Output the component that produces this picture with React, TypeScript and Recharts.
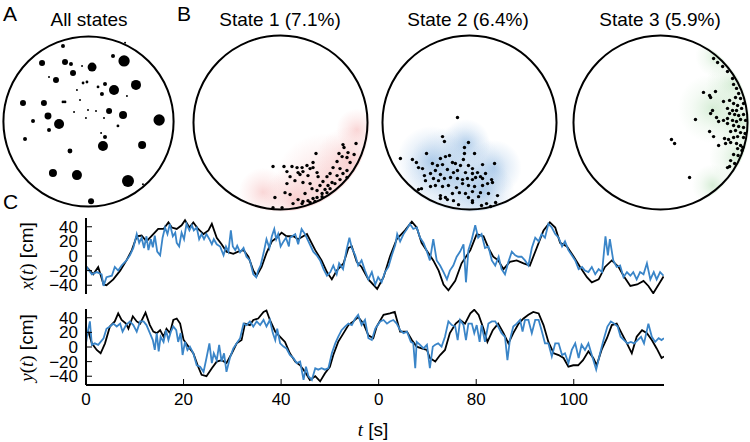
import React from 'react';
import { ScatterChart, Scatter, XAxis, YAxis, ZAxis, LineChart, Line } from 'recharts';

const SANS = '"Liberation Sans", Arial, sans-serif';
const SERIF = '"Liberation Serif", "DejaVu Serif", serif';
const BLUE = '#3a85c8';

// arena positions in cm, arena radius 50 cm
const DOMAIN: [number, number] = [-52, 52];
const ARENA_RADIUS = 50;

// A: all place fields, n = occupancy weight (dot area)
const ALL_STATES: [number, number, number][] = [
  [-15.0, 44.4, 4], [21.5, 46.2, 1], [-27.3, 34.4, 9], [-13.8, 35.0, 9], [-10.3, 33.8, 4],
  [-3.8, 32.6, 1], [2.1, 32.0, 20], [-9.1, 28.5, 9], [14.4, 38.5, 4], [20.9, 35.6, 32],
  [-23.2, 26.2, 1], [-19.1, 24.4, 9], [-3.2, 22.6, 2], [-0.9, 23.2, 2], [-6.8, 18.5, 1],
  [5.6, 20.3, 2], [9.7, 22.1, 4], [7.9, 16.2, 4], [15.0, 18.5, 25], [27.9, 21.5, 25],
  [22.6, 15.0, 1], [-38.5, 10.9, 9], [-26.2, 10.9, 9], [-15.0, 11.5, 2], [-13.8, 11.5, 2],
  [-5.0, 12.6, 1], [-8.5, 5.6, 1], [-0.3, 6.8, 1], [4.4, 6.2, 1], [12.1, 6.2, 9],
  [-23.8, 3.2, 12], [20.3, 3.8, 16], [-1.5, 2.1, 1], [9.1, 2.1, 1], [-32.6, 0.3, 4],
  [-17.3, -1.5, 25], [-23.2, -5.0, 4], [17.3, -2.6, 2], [41.5, 0.9, 32], [7.4, -6.8, 1],
  [9.7, -9.1, 4], [-37.3, -10.3, 4], [8.5, -14.4, 25], [31.5, -13.8, 16], [-10.9, -17.3, 6],
  [-20.9, -30.3, 16], [-6.8, -31.5, 25], [23.2, -35.0, 36], [32.0, -36.8, 1], [1.5, -46.8, 9],
];

const STATE1: [number, number][] = [
  [43.4, -12.1], [35.9, -12.7], [36.5, -14.4], [38.8, -17.3], [33.6, -17.8], [42.3, -18.4],
  [20.4, -17.8], [35.4, -19.6], [38.2, -20.1], [32.5, -22.4], [40.0, -23.0], [18.7, -23.0],
  [-4.3, -25.3], [2.0, -25.3], [6.6, -25.3], [9.5, -25.9], [12.4, -25.9], [15.2, -24.7],
  [17.0, -26.5], [18.7, -25.9], [3.7, -28.2], [10.1, -28.8], [12.9, -28.2], [21.0, -28.8],
  [30.2, -25.9], [34.2, -26.5], [38.2, -27.6], [28.5, -29.3], [5.5, -31.1], [11.2, -29.9],
  [15.8, -30.5], [21.6, -31.1], [26.7, -31.1], [32.5, -30.5], [35.9, -29.3], [8.3, -33.4],
  [12.9, -34.5], [3.7, -35.1], [17.0, -35.1], [24.4, -33.9], [29.6, -34.5], [34.2, -32.8],
  [38.2, -31.6], [22.7, -36.2], [27.3, -36.2], [31.3, -35.1], [18.1, -38.0], [21.0, -39.1],
  [25.6, -38.5], [28.5, -38.0], [2.6, -40.3], [5.5, -41.4], [-3.2, -43.1], [14.1, -40.8],
  [23.9, -40.8], [26.7, -40.3], [10.1, -44.3], [12.9, -45.4], [15.8, -44.9], [18.7, -43.7],
  [21.0, -43.1], [23.9, -42.6], [17.0, -46.0], [19.8, -45.4], [-4.3, -49.0], [0.9, -49.0],
  [7.2, -46.6], [12.4, -46.6],
];

const STATE2: [number, number][] = [
  [-6.9, 2.9], [-15.5, -8.1], [-14.4, -10.9], [-0.6, -11.5], [-2.9, -14.4], [-39.7, -20.7],
  [-32.8, -21.3], [-30.5, -23.0], [-24.7, -17.8], [-16.7, -20.7], [-13.8, -19.6], [-11.5, -19.0],
  [-2.9, -17.8], [2.9, -17.8], [-3.5, -21.3], [-29.3, -25.9], [-27.0, -26.5], [-21.3, -23.6],
  [-18.4, -24.7], [-15.5, -24.2], [-9.8, -23.0], [-8.1, -23.6], [-5.2, -24.7], [-0.6, -24.7],
  [1.7, -26.5], [7.5, -24.2], [14.4, -23.6], [-25.9, -30.5], [-22.4, -29.3], [-19.6, -27.6],
  [-16.7, -29.9], [-12.7, -27.0], [-9.2, -28.8], [-6.9, -27.6], [-2.3, -28.8], [1.7, -29.3],
  [4.6, -28.8], [6.3, -31.1], [9.2, -29.3], [-25.3, -33.4], [-20.7, -32.2], [-17.8, -33.4],
  [-14.4, -32.2], [-10.9, -31.6], [-6.9, -32.2], [-4.0, -32.8], [-1.2, -32.2], [1.7, -32.8],
  [3.5, -31.6], [7.5, -32.2], [12.7, -32.8], [-27.6, -38.0], [-22.4, -36.8], [-19.6, -36.2],
  [-15.5, -36.8], [-12.1, -36.2], [-7.5, -37.4], [-4.0, -35.1], [-0.6, -36.2], [2.9, -36.8],
  [7.5, -36.2], [10.4, -35.1], [13.2, -34.5], [-29.3, -38.5], [-16.7, -42.0], [-13.8, -43.1],
  [-9.8, -40.8], [-5.8, -40.3], [-2.3, -40.8], [1.7, -39.7], [6.3, -40.3], [10.9, -40.8],
  [-16.7, -43.7], [-12.7, -44.3], [-9.2, -44.9], [-0.6, -43.1], [1.7, -44.9], [5.2, -42.6],
  [16.1, -42.0], [-6.3, -47.2], [1.7, -46.0], [6.9, -47.7], [9.8, -46.6], [12.1, -48.3],
  [15.0, -46.0],
];

const STATE3: [number, number][] = [
  [30.5, 36.8], [32.8, 34.5], [35.7, 32.2], [38.5, 29.3], [41.4, 25.3], [42.0, 21.9],
  [43.7, 19.6], [44.9, 16.7], [43.1, 14.4], [46.0, 13.8], [24.7, 17.3], [28.2, 15.5],
  [28.8, 14.4], [31.6, 17.8], [36.2, 12.1], [39.7, 12.7], [42.0, 10.9], [44.3, 9.8],
  [47.7, 10.9], [38.5, 8.1], [41.4, 6.9], [43.7, 6.9], [46.6, 8.1], [29.9, 6.9],
  [28.8, 5.2], [39.7, 5.2], [42.6, 4.6], [44.9, 4.0], [47.7, 4.6], [20.1, 1.7],
  [32.2, 2.9], [33.4, 0.6], [36.2, 1.2], [38.5, 2.3], [41.4, 1.2], [43.7, 0.6],
  [46.0, 1.7], [48.9, 1.2], [38.5, -0.6], [42.0, -1.7], [44.9, -2.3], [47.7, -2.9],
  [28.2, -5.2], [40.3, -5.2], [43.1, -4.6], [46.0, -5.8], [48.6, -6.3], [30.5, -8.1],
  [36.8, -9.2], [39.1, -9.8], [42.0, -8.6], [44.3, -8.1], [47.7, -8.6], [33.4, -13.2],
  [37.4, -12.1], [40.3, -11.5], [43.7, -12.1], [46.0, -13.2], [44.3, -15.0], [46.8, -16.1],
  [47.3, -14.4], [42.0, -18.4], [44.6, -19.0], [40.3, -21.9], [42.6, -23.6], [39.7, -25.3],
  [38.5, -25.9], [6.3, -9.8], [8.1, -12.1], [16.7, -31.6],
];

// occupancy density blobs, spread in cm
const DENSITY1 = [
  { x: 26, y: -36, spread: 30 }, { x: 40, y: -22, spread: 20 },
  { x: 8, y: -44, spread: 18 }, { x: 44, y: -4, spread: 12 }, { x: -10, y: -40, spread: 14 },
];
const DENSITY2 = [
  { x: -8, y: -32, spread: 30 }, { x: -22, y: -22, spread: 20 },
  { x: 8, y: -40, spread: 18 }, { x: -2, y: -12, spread: 14 }, { x: 14, y: -26, spread: 16 },
];
const DENSITY3 = [
  { x: 46, y: 0, spread: 18 }, { x: 42, y: 22, spread: 16 }, { x: 44, y: -20, spread: 16 },
  { x: 32, y: 38, spread: 12 }, { x: 30, y: -36, spread: 12 }, { x: 30, y: 8, spread: 20 },
];

// C: true (black) and decoded (blue) trajectories, [t s, cm]
const X_TRUE: [number, number][] = [
  [0, -14], [1.5, -25], [2.5, -15], [3.6, -39], [4.2, -40], [5.6, -32], [7.0, -20], [8.3, -6],
  [9.4, 8], [10.4, 27], [11.4, 28], [12.4, 20], [13.8, 30], [14.8, 37], [15.9, 37], [16.9, 46],
  [17.6, 39], [18.6, 37], [19.6, 42], [20.3, 49], [21.2, 39], [22.0, 46], [23.0, 37], [24.1, 30],
  [25.1, 35], [25.8, 44], [26.8, 25], [27.8, 16], [28.8, 6], [30.2, 3], [31.2, 6], [32.3, 8],
  [33.3, -1], [34.3, -20], [35.0, -27], [36.0, -15], [37.0, 4], [38.1, 20], [39.1, 25], [40.1, 32],
  [41.1, 27], [42.5, 27], [43.5, 23], [45.3, 30], [47.0, 8], [48.3, -6], [49.4, -22], [50.4, -32],
  [51.4, -20], [52.8, -10], [53.8, 11], [54.5, 13], [55.5, -8], [56.5, -15], [57.9, -32], [59.7, -45],
  [61.0, -29], [62.3, -1], [63.7, 23], [65.4, 35], [66.8, 47], [67.8, 39], [68.8, 18], [69.8, 8],
  [71.2, -6], [72.3, -20], [73.3, -39], [74.3, -47], [75.7, -34], [77.0, -10], [78.8, 8], [80.1, 30],
  [81.5, 27], [82.5, 11], [83.5, -1], [84.5, -6], [85.6, -18], [86.9, -8], [88.3, -6], [89.7, -10],
  [91.0, -13], [92.4, 11], [93.8, 35], [95.1, 46], [96.2, 39], [97.2, 18], [98.6, 13], [100.0, -1],
  [101.3, -15], [102.7, -29], [103.7, -36], [105.1, -32], [106.4, -15], [107.8, -6], [109.2, -15],
  [110.2, -27], [111.6, -41], [113.0, -39], [114.3, -34], [115.3, -41], [116.3, -51], [117.4, -39],
  [118.4, -28],
];

const X_DECODED: [number, number][] = [
  [0, -14], [1.2, -25], [2.2, -22], [3.2, -25], [3.6, -41], [4.2, -29], [5.3, -27], [5.9, -15],
  [6.6, -20], [7.3, -13], [8.3, -6], [9.0, 1], [9.7, 11], [10.4, 30], [10.9, 18], [11.4, 25],
  [11.9, 11], [12.4, 27], [12.8, 8], [13.3, 23], [13.7, 12], [14.1, 28], [14.6, 6], [15.2, 1],
  [15.7, 25], [16.2, 39], [16.7, 30], [17.2, 44], [17.8, 27], [18.3, 32], [18.6, 18], [19.1, 13],
  [19.6, 32], [20.1, 23], [20.6, 44], [21.2, 35], [21.7, 42], [22.1, 35], [22.7, 39], [23.2, 23],
  [23.7, 30], [24.2, 23], [24.7, 30], [25.3, 23], [25.8, 16], [26.2, 23], [26.8, 16], [27.5, 13],
  [28.2, 1], [28.7, 13], [29.2, 6], [29.7, 35], [30.1, 13], [30.6, 8], [31.0, 14], [31.6, 5],
  [32.3, 11], [32.9, -1], [33.6, -6], [34.3, -25], [34.9, -29], [35.3, -20], [35.8, -13], [36.4, 4],
  [37.0, 23], [37.6, 11], [38.1, 27], [38.6, 37], [39.0, 23], [39.4, 30], [39.9, 13], [40.5, 20],
  [41.0, 25], [41.6, 13], [41.8, 25], [42.9, 30], [43.5, 16], [44.2, 37], [44.9, 30], [45.6, 20],
  [46.1, 13], [46.6, 6], [47.3, 1], [48.0, -6], [48.7, -18], [49.4, -27], [50.1, -22], [50.7, -13],
  [51.4, -25], [51.9, -10], [52.7, -18], [53.4, 8], [54.0, 25], [54.5, 11], [55.2, 1], [55.8, -13],
  [56.5, -6], [57.2, -20], [57.9, -32], [58.6, -22], [59.3, -39], [59.9, -29], [60.6, -36], [61.3, -22],
  [62.0, -15], [62.7, 1], [63.4, 15], [63.8, 30], [64.4, 20], [65.1, 30], [65.8, 37], [66.4, 44],
  [67.1, 37], [67.8, 39], [68.5, 25], [69.2, 18], [69.9, 6], [70.5, -6], [71.2, 23], [71.9, -6],
  [72.6, -13], [73.3, -22], [74.0, -32], [74.6, -20], [75.3, -13], [76.0, -1], [76.7, 6], [77.4, 16],
  [77.9, -36], [78.4, 8], [79.1, 23], [79.8, 42], [80.4, 25], [81.1, 30], [81.8, 11], [82.5, 13],
  [83.2, -6], [83.9, -13], [84.6, -1], [85.2, -18], [85.9, -25], [86.6, -8], [87.3, 6], [88.0, 1],
  [88.6, -1], [89.3, -1], [90.0, -6], [90.7, -13], [91.4, 11], [92.1, 25], [92.8, 20], [93.4, 30],
  [94.1, 25], [94.8, 44], [95.5, 39], [96.2, 30], [96.9, 25], [97.6, 13], [98.2, 20], [98.9, 8],
  [99.6, 1], [100.3, -6], [101.0, -18], [101.7, -15], [102.3, -20], [103.0, -22], [103.7, -15],
  [104.4, -25], [105.1, -18], [105.8, -22], [106.5, 27], [107.0, 1], [107.4, 23], [108.1, -6],
  [108.8, -15], [109.5, -13], [110.2, -29], [110.9, -22], [111.6, -27], [112.2, -22], [112.9, -32],
  [113.6, -22], [114.3, -25], [115.0, -10], [115.7, -32], [116.4, -22], [117.0, -32], [117.7, -22],
  [118.4, -27],
];

const Y_TRUE: [number, number][] = [
  [0, 18.6], [0.5, 21], [1.2, 5], [2.2, -4], [3.0, -8.6], [3.9, 5], [4.9, 28], [5.9, 35], [6.6, 46],
  [7.3, 37], [8.2, 32], [8.7, 25], [9.6, 42], [10.4, 35], [11.1, 32], [12.2, 47], [13.1, 30],
  [13.8, 21], [14.5, 19], [15.2, 23], [15.9, 14], [16.5, 25], [17.2, 19], [17.9, 37], [18.6, 39],
  [19.3, 32], [20.0, 10], [21.0, 0.5], [22.0, -8.6], [23.0, -27], [23.7, -38], [24.7, -40],
  [25.8, -29], [26.8, -20], [27.8, -18], [28.8, -22], [29.9, -8.6], [30.9, 5], [31.9, 9.5],
  [32.6, 32], [33.6, 30], [34.3, 37], [35.3, 39], [36.4, 48], [37.0, 50], [37.7, 37], [38.8, 21],
  [39.8, 14], [40.8, 7], [41.8, -8.6], [42.9, -20], [43.9, -25], [44.9, -34], [45.9, -45],
  [47.0, -40], [48.0, -47], [49.0, -36], [50.0, -27], [50.7, -11], [51.7, 7], [52.8, 19],
  [53.8, 30], [54.8, 35], [55.8, 41], [56.9, 32], [57.9, 16], [58.9, 12], [59.6, 28], [61.0, 44],
  [62.3, 46], [63.3, 48], [64.4, 21], [65.8, 21], [66.8, 9.5], [67.8, 0.5], [68.8, -2], [69.9, -4],
  [70.5, -15], [71.6, -20], [72.6, -11], [73.6, -4], [74.6, 19], [75.8, 32], [76.7, 37], [77.7, 32],
  [78.8, 46], [79.6, 51], [80.5, 44], [81.5, 25], [82.3, 7], [83.4, 23], [84.5, 32], [85.6, 19],
  [86.6, 5], [87.6, 19], [88.7, 32], [89.7, 39], [90.7, 44], [91.7, 48], [92.8, 46], [93.8, 30],
  [94.8, 7], [95.9, -8.6], [96.9, -11], [97.9, -15], [98.9, -27], [99.9, -25], [100.9, -25],
  [101.9, -18], [103.0, -6], [104.0, -15], [104.7, -25], [105.7, -4], [106.8, 12], [107.8, 30],
  [108.8, 32], [109.8, 19], [110.9, 5], [111.9, -8.6], [112.9, 14], [114.0, 23], [115.0, 19],
  [116.0, 9.5], [117.0, -2], [118.0, -15], [118.5, -13],
];

const Y_DECODED: [number, number][] = [
  [0, 5], [0.3, 19], [0.8, 35], [1.2, 3], [1.8, 5], [2.5, 3], [3.6, 12], [4.2, 25], [4.9, 28],
  [5.6, 32], [6.3, 28], [7.0, 32], [7.5, 21], [8.2, 30], [9.0, 35], [9.7, 30], [10.4, 21],
  [11.1, 35], [11.8, 35], [12.4, 30], [13.1, 19], [13.7, 9.5], [14.1, -4], [14.5, 19], [14.9, -6],
  [15.3, 14], [15.9, 7], [16.4, 23], [16.9, 9.5], [17.4, 21], [17.9, 28], [18.5, 23], [18.9, 7],
  [19.4, 19], [19.8, -11], [20.3, 7], [20.8, -4], [21.3, 0.5], [22.0, -8.6], [22.7, -25],
  [23.4, -27], [24.1, -34], [24.7, -15], [25.3, 5], [25.8, -22], [26.2, -8.6], [26.8, -18],
  [27.3, 3], [27.8, -20], [28.3, -8.6], [28.8, -34], [29.5, -15], [30.2, -2], [30.9, 5], [31.6, 12],
  [32.3, 32], [32.9, 30], [33.6, 35], [34.3, 28], [35.0, 35], [35.7, 30], [36.4, 37], [37.0, 28],
  [37.7, 37], [38.3, 19], [38.8, 9.5], [39.2, 25], [39.8, 5], [40.5, 0.5], [41.1, -2], [41.8, -11],
  [42.5, -15], [43.2, -22], [43.9, -20], [44.6, -45], [45.1, -27], [45.6, -40], [46.3, -45],
  [47.0, -29], [47.6, -31], [48.3, -29], [49.0, -31], [49.7, -29], [50.4, -8.6], [51.1, 5],
  [51.7, 14], [52.4, 23], [53.1, 28], [53.8, 32], [54.5, 30], [55.2, 39], [55.8, 44], [56.5, 30],
  [57.2, 37], [57.9, 12], [58.6, 9.5], [59.3, 25], [60.3, 35], [61.0, 37], [61.7, 32], [62.3, 35],
  [63.0, 37], [63.7, 32], [64.4, 23], [65.1, 19], [65.8, 21], [66.6, 7], [67.1, 5], [67.5, -29],
  [67.8, 7], [68.5, 3], [69.2, -2], [69.9, 3], [70.5, -29], [71.1, 0.5], [71.6, 3], [72.2, 5],
  [72.9, 0.5], [73.6, 14], [74.3, 35], [75.0, 30], [75.7, 28], [76.2, 9.5], [76.7, 37], [77.4, 30],
  [77.9, 9.5], [78.4, 32], [79.1, 32], [79.6, 19], [80.1, 30], [80.7, 7], [81.1, 30], [81.8, 7],
  [82.5, 32], [83.2, 35], [83.9, 35], [84.5, 28], [85.2, 19], [85.9, 14], [86.4, -18], [86.9, 9.5],
  [87.6, 28], [88.3, 32], [89.0, 37], [89.5, 21], [90.0, 37], [90.7, 37], [91.4, 19], [92.1, 37],
  [92.8, 37], [93.4, 23], [94.1, 5], [94.8, 5], [95.5, -13], [96.2, 5], [96.9, 5], [97.6, -11],
  [98.2, -8.6], [98.9, -22], [99.6, -4], [100.3, 5], [101.0, -15], [101.6, 3], [102.3, -4],
  [103.0, 5], [103.7, -11], [104.6, -31], [105.4, -8.6], [106.1, 9.5], [106.9, 28], [107.6, 35],
  [108.3, 32], [109.0, 28], [109.6, 14], [110.3, 9.5], [111.0, 5], [111.7, 7], [112.4, 5],
  [113.1, 9.5], [113.8, 14], [114.4, 5], [115.3, 32], [116.0, 14], [116.7, 7], [117.4, 12],
  [118.0, 9.5], [118.5, 12],
];

const T_TICKS = [0, 20, 40, 60, 80, 100];
const T_LABELS = ['0', '20', '40', '0', '80', '100'];
const V_TICKS = [-40, -20, 0, 20, 40];

const toPoints = (rows: [number, number][]) => rows.map(([x, y]) => ({ x, y }));
const toSeries = (rows: [number, number][]) => rows.map(([t, v]) => ({ t, v }));

const fmtV = (v: number) => (v < 0 ? `\u2212${-v}` : `${v}`);
const fmtT = (t: number) => T_LABELS[T_TICKS.indexOf(t)] ?? '';
const blank = () => '';

interface ArenaProps {
  size: number;
  left: number;
  top: number;
  dots: { x: number; y: number; n?: number }[];
  density?: { x: number; y: number; spread: number }[];
  gradient?: string;
  weighted?: boolean;
}

function Arena({ size, left, top, dots, density, gradient, weighted }: ArenaProps) {
  const pxPerCm = size / (DOMAIN[1] - DOMAIN[0]);
  const r = ARENA_RADIUS * pxPerCm;
  return (
    <div style={{ position: 'absolute', left, top, width: size, height: size, overflow: 'hidden' }}>
      <ScatterChart width={size} height={size} margin={{ top: 0, right: 0, bottom: 0, left: 0 }}>
        <XAxis type="number" dataKey="x" domain={DOMAIN} hide allowDataOverflow />
        <YAxis type="number" dataKey="y" domain={DOMAIN} hide allowDataOverflow />
        {weighted && <ZAxis type="number" dataKey="n" domain={[0, 36]} range={[0, 36 * Math.PI]} />}
        {density && (
          <Scatter
            data={density}
            isAnimationActive={false}
            shape={(p: any) => (
              <circle cx={p.cx} cy={p.cy} r={p.payload.spread * pxPerCm} fill={`url(#${gradient})`} />
            )}
          />
        )}
        {/* white ring masks density outside the arena, then the arena wall */}
        <Scatter
          data={[{ x: 0, y: 0, n: 1 }]}
          isAnimationActive={false}
          shape={(p: any) => (
            <g>
              <circle cx={p.cx} cy={p.cy} r={r + 26} fill="none" stroke="#fff" strokeWidth={48} />
              <circle cx={p.cx} cy={p.cy} r={r} fill="none" stroke="#000" strokeWidth={2} />
            </g>
          )}
        />
        {weighted ? (
          <Scatter data={dots} fill="#000" isAnimationActive={false} />
        ) : (
          <Scatter
            data={dots}
            isAnimationActive={false}
            shape={(p: any) => <circle cx={p.cx} cy={p.cy} r={1.7} fill="#000" />}
          />
        )}
      </ScatterChart>
    </div>
  );
}

interface TraceProps {
  top: number;
  truth: [number, number][];
  decoded: [number, number][];
  showTime: boolean;
}

const axisLine = { stroke: '#000', strokeWidth: 2 };
const tickLine = { stroke: '#000', strokeWidth: 1 };
const tickFont = { fill: '#000', fontSize: 17, fontFamily: SANS };

function Trace({ top, truth, decoded, showTime }: TraceProps) {
  const height = showTime ? 2 + 76 + 30 : 80;
  return (
    <div style={{ position: 'absolute', left: 0, top }}>
      <LineChart width={750} height={height} margin={{ top: 2, right: 86, bottom: showTime ? 0 : 2, left: 0 }}>
        <XAxis
          xAxisId="b"
          type="number"
          dataKey="t"
          domain={[0, 118.5]}
          allowDataOverflow
          ticks={T_TICKS}
          interval={0}
          height={showTime ? 30 : 0}
          tickSize={-6}
          tickMargin={14}
          tickFormatter={showTime ? fmtT : blank}
          axisLine={axisLine}
          tickLine={tickLine}
          tick={tickFont}
        />
        <XAxis
          xAxisId="t"
          orientation="top"
          type="number"
          dataKey="t"
          domain={[0, 118.5]}
          allowDataOverflow
          ticks={T_TICKS}
          interval={0}
          height={0}
          tickSize={-6}
          tickFormatter={blank}
          axisLine={axisLine}
          tickLine={tickLine}
        />
        <YAxis
          yAxisId="l"
          type="number"
          domain={[-52, 52]}
          allowDataOverflow
          ticks={V_TICKS}
          interval={0}
          width={86}
          tickSize={-6}
          tickMargin={14}
          tickFormatter={fmtV}
          axisLine={axisLine}
          tickLine={tickLine}
          tick={tickFont}
        />
        <YAxis
          yAxisId="r"
          orientation="right"
          type="number"
          domain={[-52, 52]}
          allowDataOverflow
          ticks={V_TICKS}
          interval={0}
          width={0}
          tickSize={-6}
          tickFormatter={blank}
          axisLine={axisLine}
          tickLine={tickLine}
        />
        <Line
          xAxisId="b"
          yAxisId="l"
          data={toSeries(truth)}
          dataKey="v"
          type="linear"
          stroke="#000"
          strokeWidth={1.8}
          dot={false}
          isAnimationActive={false}
        />
        <Line
          xAxisId="t"
          yAxisId="r"
          data={toSeries(decoded)}
          dataKey="v"
          type="linear"
          stroke={BLUE}
          strokeWidth={1.8}
          dot={false}
          isAnimationActive={false}
        />
      </LineChart>
    </div>
  );
}

export default function App() {
  const allDots = ALL_STATES.map(([x, y, n]) => ({ x, y, n }));
  return (
    <div style={{ position: 'absolute', left: 0, top: 0, width: 750, height: 442, background: '#fff' }}>
      <svg width="0" height="0" style={{ position: 'absolute' }}>
        <defs>
          <radialGradient id="dens-red">
            <stop offset="0%" stopColor="#ee8080" stopOpacity={0.32} />
            <stop offset="60%" stopColor="#f4a0a0" stopOpacity={0.14} />
            <stop offset="100%" stopColor="#f4a0a0" stopOpacity={0} />
          </radialGradient>
          <radialGradient id="dens-blue">
            <stop offset="0%" stopColor="#4f8fd0" stopOpacity={0.38} />
            <stop offset="60%" stopColor="#7aaadc" stopOpacity={0.16} />
            <stop offset="100%" stopColor="#7aaadc" stopOpacity={0} />
          </radialGradient>
          <radialGradient id="dens-green">
            <stop offset="0%" stopColor="#7cc67c" stopOpacity={0.32} />
            <stop offset="60%" stopColor="#a6d8a6" stopOpacity={0.12} />
            <stop offset="100%" stopColor="#a6d8a6" stopOpacity={0} />
          </radialGradient>
        </defs>
      </svg>

      <Arena size={177} left={0} top={33} dots={allDots} weighted />
      <Arena size={181} left={190} top={31.5} dots={toPoints(STATE1)} density={DENSITY1} gradient="dens-red" />
      <Arena size={181} left={378.5} top={31.5} dots={toPoints(STATE2)} density={DENSITY2} gradient="dens-blue" />
      <Arena size={181} left={569.5} top={31.5} dots={toPoints(STATE3)} density={DENSITY3} gradient="dens-green" />

      <Trace top={216} truth={X_TRUE} decoded={X_DECODED} showTime={false} />
      <Trace top={307} truth={Y_TRUE} decoded={Y_DECODED} showTime />

      {/* panel letters, titles and axis titles */}
      <svg width={750} height={442} style={{ position: 'absolute', left: 0, top: 0, pointerEvents: 'none' }}>
        <g fontFamily={SANS} fill="#000">
          <text x={3} y={21} fontSize={21}>A</text>
          <text x={177} y={21} fontSize={21}>B</text>
          <text x={3} y={209} fontSize={21}>C</text>
          <text x={89} y={26} fontSize={19} textAnchor="middle">All states</text>
          <text x={280} y={26} fontSize={19} textAnchor="middle">State 1 (7.1%)</text>
          <text x={468} y={26} fontSize={19} textAnchor="middle">State 2 (6.4%)</text>
          <text x={660} y={26} fontSize={19} textAnchor="middle">State 3 (5.9%)</text>
          <text x={33} y={256} fontSize={19} textAnchor="middle" transform="rotate(-90 33 256)">
            <tspan fontFamily={SERIF} fontStyle="italic">x</tspan>
            <tspan fontFamily={SERIF}>(</tspan>
            <tspan fontFamily={SERIF} fontStyle="italic">t</tspan>
            <tspan fontFamily={SERIF}>)</tspan>
            <tspan> [cm]</tspan>
          </text>
          <text x={33} y={348} fontSize={19} textAnchor="middle" transform="rotate(-90 33 348)">
            <tspan fontFamily={SERIF} fontStyle="italic">y</tspan>
            <tspan fontFamily={SERIF}>(</tspan>
            <tspan fontFamily={SERIF} fontStyle="italic">t</tspan>
            <tspan fontFamily={SERIF}>)</tspan>
            <tspan> [cm]</tspan>
          </text>
          <text x={373} y={436} fontSize={19} textAnchor="middle">
            <tspan fontFamily={SERIF} fontStyle="italic">t</tspan>
            <tspan> [s]</tspan>
          </text>
        </g>
      </svg>
    </div>
  );
}
